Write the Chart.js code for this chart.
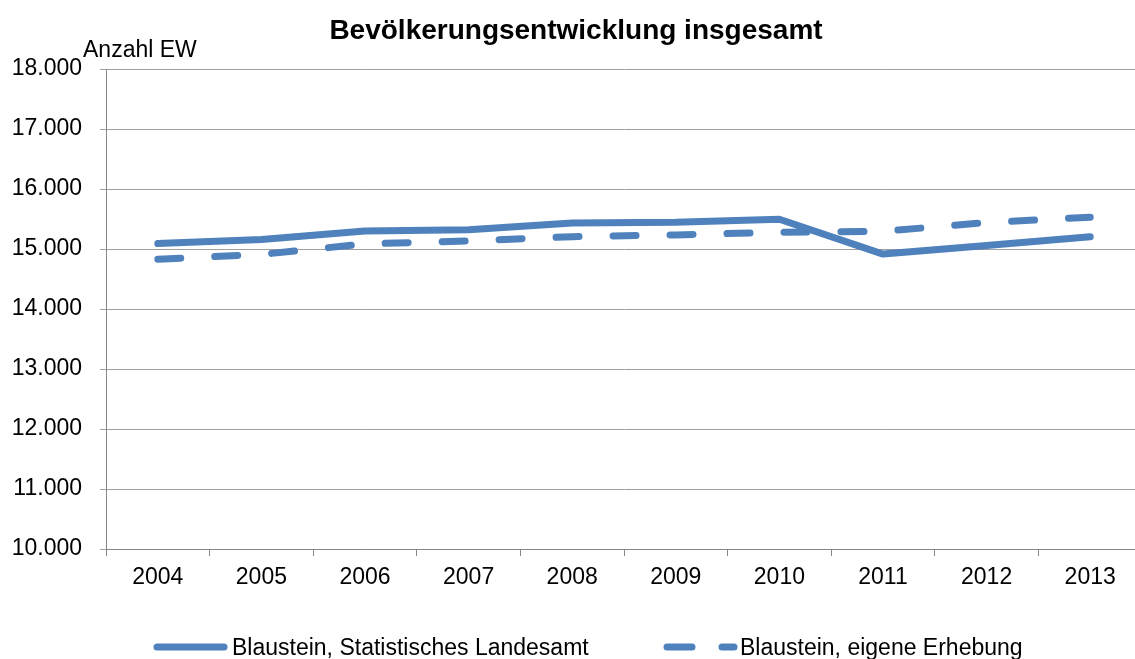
<!DOCTYPE html>
<html lang="de">
<head>
<meta charset="utf-8">
<title>Bevölkerungsentwicklung insgesamt</title>
<script src="https://cdn.jsdelivr.net/npm/chart.js@4/dist/chart.umd.min.js"></script>
<style>
  html, body { margin: 0; padding: 0; background: #fff; overflow: hidden; }
  #wrap { width: 1150px; height: 659px; }
</style>
</head>
<body>
<div id="wrap"><canvas id="chart" width="1150" height="659"></canvas></div>
<script>
// Daten
const jahre = ['2004', '2005', '2006', '2007', '2008', '2009', '2010', '2011', '2012', '2013'];
const statistischesLandesamt = [15090, 15160, 15300, 15320, 15435, 15445, 15495, 14915, 15060, 15205];
const eigeneErhebung = [14830, 14910, 15085, 15135, 15205, 15235, 15280, 15295, 15440, 15530];
const yTicks = { min: 10000, max: 18000, step: 1000 };

const titel = 'Bevölkerungsentwicklung insgesamt';
const achsenTitel = 'Anzahl EW';
const serienNamen = ['Blaustein, Statistisches Landesamt', 'Blaustein, eigene Erhebung'];

const blau = '#4f81bd';
const grau = '#a0a0a0';
const achsenGrau = '#868686';
const schrift = '"Liberation Sans", Arial, sans-serif';

function tausender(v) {
  return String(v).replace(/\B(?=(\d{3})+(?!\d))/g, '.');
}

// Titel, Achsenbeschriftung und Legende selbst zeichnen
const beschriftung = {
  id: 'beschriftung',
  afterDraw(chart) {
    const ctx = chart.ctx;
    ctx.save();
    ctx.fillStyle = '#000';
    ctx.textBaseline = 'alphabetic';

    ctx.font = 'bold 28px ' + schrift;
    ctx.textAlign = 'center';
    ctx.fillText(titel, 576, 39);

    ctx.textAlign = 'left';
    ctx.font = '23px ' + schrift;
    ctx.fillText(achsenTitel, 83, 57);

    // Legende
    const y = 647;
    ctx.strokeStyle = blau;
    ctx.lineWidth = 7;
    ctx.lineCap = 'round';
    ctx.beginPath();
    ctx.moveTo(157, y);
    ctx.lineTo(224, y);
    ctx.stroke();
    ctx.fillText(serienNamen[0], 232, 655);

    ctx.beginPath();
    ctx.moveTo(667, y);
    ctx.lineTo(692, y);
    ctx.moveTo(722, y);
    ctx.lineTo(734, y);
    ctx.stroke();
    ctx.fillText(serienNamen[1], 740, 655);
    ctx.restore();
  }
};

new Chart(document.getElementById('chart'), {
  type: 'line',
  data: {
    labels: jahre,
    datasets: [
      {
        label: serienNamen[0],
        data: statistischesLandesamt,
        borderColor: blau,
        borderWidth: 7,
        borderCapStyle: 'round',
        borderJoinStyle: 'round',
        pointRadius: 0,
        tension: 0
      },
      {
        label: serienNamen[1],
        data: eigeneErhebung,
        borderColor: blau,
        borderWidth: 7,
        borderDash: [23, 34],
        borderCapStyle: 'round',
        borderJoinStyle: 'round',
        pointRadius: 0,
        tension: 0
      }
    ]
  },
  options: {
    responsive: false,
    animation: false,
    layout: { padding: { top: 69, right: 8, left: 0, bottom: 0 } },
    plugins: {
      legend: { display: false },
      title: { display: false },
      tooltip: { enabled: false }
    },
    scales: {
      x: {
        offset: true,
        afterFit(scale) { scale.height = 110; },
        grid: { offset: true, drawOnChartArea: false, color: achsenGrau, tickLength: 7 },
        border: { color: achsenGrau, width: 1 },
        ticks: { color: '#000', font: { family: schrift, size: 23 }, padding: 8, maxRotation: 0 }
      },
      y: {
        min: yTicks.min,
        max: yTicks.max,
        afterFit(scale) { scale.width = 106; },
        grid: { color: grau, tickLength: 6 },
        border: { color: achsenGrau, width: 1 },
        ticks: {
          stepSize: yTicks.step,
          color: '#000',
          font: { family: schrift, size: 23 },
          padding: 18,
          callback: v => tausender(v)
        }
      }
    }
  },
  plugins: [beschriftung]
});
</script>
</body>
</html>
